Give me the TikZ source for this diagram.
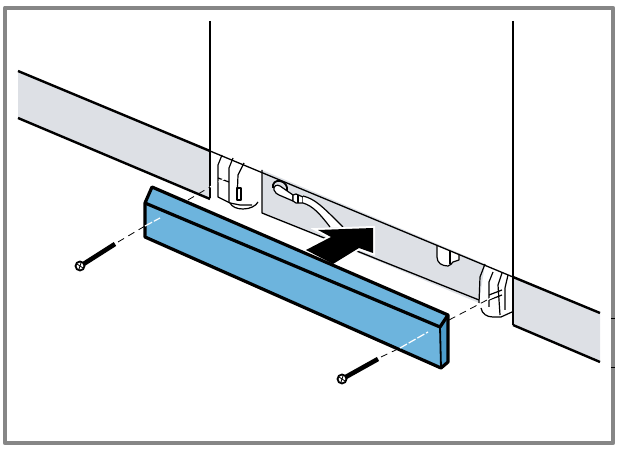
\documentclass[tikz,border=0pt]{standalone}
\usepackage{xcolor}
\definecolor{panelgray}{HTML}{DDE0E5}
\definecolor{barblue}{HTML}{6DB4DD}
\definecolor{capblue}{HTML}{4D9CCB}
\definecolor{framegray}{HTML}{868686}
\usetikzlibrary{arrows.meta}

\begin{document}
\begin{tikzpicture}[x=1pt,y=-1pt,line join=round,
    outline/.style={line width=2.4pt},
    barline/.style={line width=3.2pt},
    thinline/.style={line width=1.3pt},
    hingeline/.style={line width=1.2pt},
    blackdash/.style={line width=0.8pt,dash pattern=on 7pt off 5pt},
    whitedash/.style={white,line width=1.2pt,dash pattern=on 8pt off 2pt}]
    \useasboundingbox (0,0) rectangle (622,454);
    % Frame
    \draw[framegray, line width=4.8pt] (5,8) rectangle (613,443);
    \draw[line width=1pt] (611,319) -- (615,319);
    \draw[line width=1pt] (611,368) -- (615,368);
    % Gray Panels
    \fill[panelgray] (18,71) -- (210,151) -- (210,199) -- (18,118) -- cycle;
    \fill[panelgray] (513,277) -- (600,313) -- (600,362) -- (513,325) -- cycle;
    \fill[panelgray] (262,170) -- (485,264) -- (479,303) -- (262,213) -- cycle;
    % Notch in the Middle Panel
    \filldraw[fill=white, hingeline] (437,245) -- (437,257) .. controls (437,263) and (442,266) .. (448,266) .. controls (451,266) and (451,263) .. (453,262) -- (459,260) -- (459,254);
    \draw[hingeline] (450,251) -- (450,264);
    % Panel Edges
    \draw[outline] (18,71) -- (210,151);
    \draw[outline] (18,118) -- (210,199);
    \draw[outline] (513,277) -- (600,313);
    \draw[outline] (513,325) -- (600,362);
    \draw[thinline] (210,151) -- (513,277);
    \draw[thinline] (262,170) -- (262,213) -- (479,300);
    % Cabinet Sides
    \draw[line width=1.8pt] (210,21) -- (210,198);
    \draw[line width=1.8pt] (513,21) -- (513,325);
    % Left Hinge
    \draw[hingeline] (222,155) -- (218,165) -- (218,197) -- (230,203);
    \draw[hingeline] (233,158) -- (229,168) -- (229,202);
    \draw[hingeline] (244,163) -- (238,175) -- (237,200);
    \draw[hingeline] (218,178) -- (229,182);
    \draw[hingeline] (237,188) rectangle (241,200);
    \draw[hingeline] (230,203) .. controls (232,207) and (237,209) .. (243,209) .. controls (250,209) and (256,206) .. (258,202);
    \draw[hingeline] (230,203) -- (240,205) -- (252,205);
    % Right Hinge
    \draw[hingeline] (485,264) -- (480,277) -- (479,303);
    \draw[hingeline] (481,308) .. controls (482,314) and (487,317) .. (493,317) -- (501,317) -- (512,312);
    \draw[hingeline] (493,272) -- (489,282) -- (489,307);
    \draw[hingeline] (502,273) -- (498,285) -- (500,315);
    \draw[hingeline] (508,275) -- (505,288) -- (505,310);
    \draw[hingeline] (489,295) -- (502,290);
    \draw[hingeline] (489,300) -- (502,295);
    % Water Pipe
    \draw[line width=1.8pt] (273,188) .. controls (272,183) and (276,180) .. (280,181) .. controls (285,182) and (288,186) .. (287,191);
    \filldraw[fill=white, hingeline] (274,190) .. controls (273,186) and (277,184) .. (280,186) -- (293,195) -- (293,201) -- (279,195) .. controls (277,194) and (275,193) .. (274,190) -- cycle;
    \filldraw[fill=white, hingeline] (293,195) -- (296,194) -- (303,197) -- (303,203) -- (296,203) -- (293,201) -- cycle;
    \draw[hingeline] (298,195) -- (298,203);
    \fill[white] (303,196) .. controls (315,199) and (322,206) .. (343,227) -- (330,227) .. controls (320,214) and (313,206) .. (303,203) -- cycle;
    \draw[hingeline] (303,196) .. controls (315,199) and (322,206) .. (343,227);
    \draw[hingeline] (303,203) .. controls (313,206) and (320,214) .. (330,227);
    % Push Arrow
    \coordinate (arrowtop) at (373,228);
    \coordinate (arrowright) at (373,253);
    \filldraw[fill=black, draw=white, line width=4pt, line join=miter] (318,230) -- (arrowtop) -- (arrowright) -- (359,248) -- (333,264) -- (306,250) -- (331,237) -- cycle;
    \fill[black] (318,230) -- (arrowtop) -- (arrowright) -- (359,248) -- (333,264) -- (306,250) -- (331,237) -- cycle;
    % Blue Bar
    \coordinate (bartop) at (152,187);
    \coordinate (barleft) at (145,203);
    \coordinate (barlow) at (145,237);
    \coordinate (barright) at (448,315);
    \coordinate (barridge) at (440,327);
    \coordinate (barbottom) at (441,368);
    \coordinate (barcap) at (448,362);
    \fill[capblue] (barridge) -- (barright) -- (barcap) -- (barbottom) -- cycle;
    \fill[barblue] (bartop) -- (barright) -- (barridge) -- (barbottom) -- (barlow) -- (barleft) -- cycle;
    \draw[barline] (barlow) -- (barleft) -- (bartop) -- (barright) -- (barcap) -- (barbottom) -- cycle;
    \draw[barline] (barleft) -- (barridge) -- (barright);
    \draw[line width=1.8pt] (barridge) -- (barbottom);
    % Left Screw
    \coordinate (lefttip) at (115,244);
    \coordinate (lefthead) at (82,265);
    \draw[line width=4.6pt] (lefttip) -- (lefthead);
    \filldraw[fill=white, line width=1.8pt] (lefthead) ++(-2,1) circle (4.5pt);
    \draw[line width=0.8pt] (77,264) -- (83,268);
    \draw[line width=0.8pt] (81,263) -- (79,269);
    % Right Screw
    \coordinate (righttip) at (378,359);
    \coordinate (righthead) at (344,378);
    \draw[line width=4.6pt] (righttip) -- (righthead);
    \filldraw[fill=white, line width=1.8pt] (righthead) ++(-2,1) circle (4.5pt);
    \draw[line width=0.8pt] (339,377) -- (345,381);
    \draw[line width=0.8pt] (343,376) -- (341,382);
    % Dashed Guides
    \coordinate (leftbar) at (145,226);
    \coordinate (leftend) at (160,218);
    \coordinate (leftout) at (188,200);
    \coordinate (lefthinge) at (224,179);
    \coordinate (rightbar) at (400,348);
    \coordinate (rightend) at (428,332);
    \coordinate (rightout) at (449,320);
    \coordinate (righthinge) at (487,300);
    \draw[blackdash] (lefttip) ++(3,-2) -- (leftbar);
    \draw[whitedash] (leftbar) -- (leftend);
    \draw[blackdash] (leftout) -- (210,187);
    \draw[whitedash] (210,187) -- (lefthinge);
    \draw[blackdash] (righttip) ++(3,-2) -- (rightbar);
    \draw[whitedash] (rightbar) -- (rightend);
    \draw[blackdash] (rightout) -- (righthinge);
    \draw[whitedash] (righthinge) -- (497,295);
\end{tikzpicture}
\end{document}
